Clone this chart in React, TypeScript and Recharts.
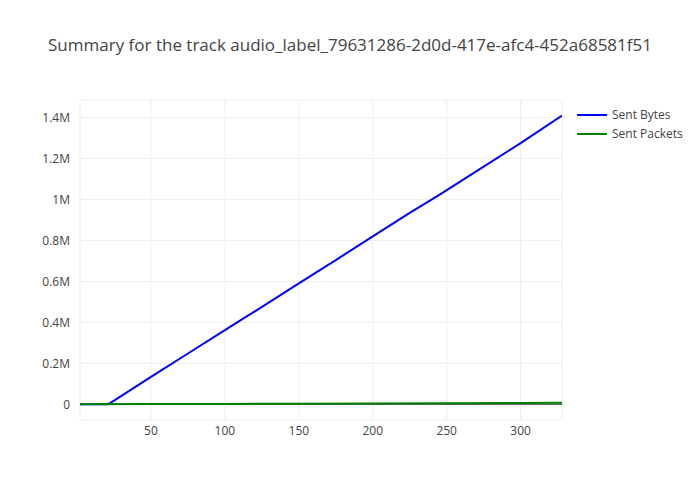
import React from 'react';
import { LineChart, Line, XAxis, YAxis, CartesianGrid, ReferenceLine } from 'recharts';

const title = 'Summary for the track audio_label_79631286-2d0d-417e-afc4-452a68581f51';

// time (s) and the values
const bytesTime = [2, 21, 25, 50, 75, 100, 115, 120, 150, 175, 200, 225, 240, 245, 275, 300, 328];
const sentBytes = [0, 0, 18000, 134000, 248000, 362000, 430000, 452000, 590000, 704000, 820000, 934000, 1000000, 1022000, 1160000, 1275000, 1409000];

const packetsTime = [2, 50, 100, 150, 200, 250, 300, 328];
const sentPackets = [0, 1000, 2100, 3200, 4300, 5400, 6500, 7100];

const xTicks = [50, 100, 150, 200, 250, 300];
const yTicks = [0, 200000, 400000, 600000, 800000, 1000000, 1200000, 1400000];

const bytesData = bytesTime.map((t, i) => ({ t, v: sentBytes[i] }));
const packetsData = packetsTime.map((t, i) => ({ t, v: sentPackets[i] }));

const font = '"Open Sans", "Noto Sans", sans-serif';

const fmtY = (v: number) => (v === 0 ? '0' : `${+(v / 1e6).toFixed(1)}M`);

const legendItems = [
  { name: 'Sent Bytes', color: '#0000ff' },
  { name: 'Sent Packets', color: '#008000' },
];

function LegendBox() {
  return (
    <div style={{ position: 'absolute', left: 572, top: 105, fontFamily: font, fontSize: 12, color: '#444' }}>
      {legendItems.map((it) => (
        <div key={it.name} style={{ display: 'flex', alignItems: 'center', height: 19 }}>
          <svg width={40} height={10}>
            <line x1={5} y1={5} x2={35} y2={5} stroke={it.color} strokeWidth={2} />
          </svg>
          <span>{it.name}</span>
        </div>
      ))}
    </div>
  );
}

export default function App() {
  return (
    <div style={{ position: 'absolute', left: 0, top: 0, width: 700, height: 500, background: '#fff', fontFamily: font }}>
      <div
        style={{
          position: 'absolute',
          top: 33,
          left: 0,
          width: 700,
          textAlign: 'center',
          fontSize: 17,
          color: '#444',
        }}
      >
        {title}
      </div>
      <LineChart width={700} height={500} margin={{ top: 100, right: 138, bottom: 50, left: 0 }}>
        <CartesianGrid stroke="#eee" vertical horizontal />
        <XAxis
          type="number"
          dataKey="t"
          domain={[2, 328]}
          ticks={xTicks}
          allowDataOverflow
          axisLine={false}
          tickLine={false}
          tickMargin={0}
          height={30}
          tick={{ fontSize: 12, fill: '#444', fontFamily: font }}
        />
        <YAxis
          type="number"
          domain={[-76600, 1485400]}
          ticks={yTicks}
          allowDataOverflow
          axisLine={false}
          tickLine={false}
          tickMargin={4}
          width={80}
          tickFormatter={fmtY}
          tick={{ fontSize: 12, fill: '#444', fontFamily: font }}
        />
        <ReferenceLine y={0} stroke="#444" strokeWidth={1} />
        <Line
          data={bytesData}
          dataKey="v"
          name="Sent Bytes"
          type="linear"
          stroke="#0000ff"
          strokeWidth={2}
          dot={false}
          isAnimationActive={false}
        />
        <Line
          data={packetsData}
          dataKey="v"
          name="Sent Packets"
          type="linear"
          stroke="#008000"
          strokeWidth={2}
          dot={false}
          isAnimationActive={false}
        />
      </LineChart>
      <LegendBox />
    </div>
  );
}
